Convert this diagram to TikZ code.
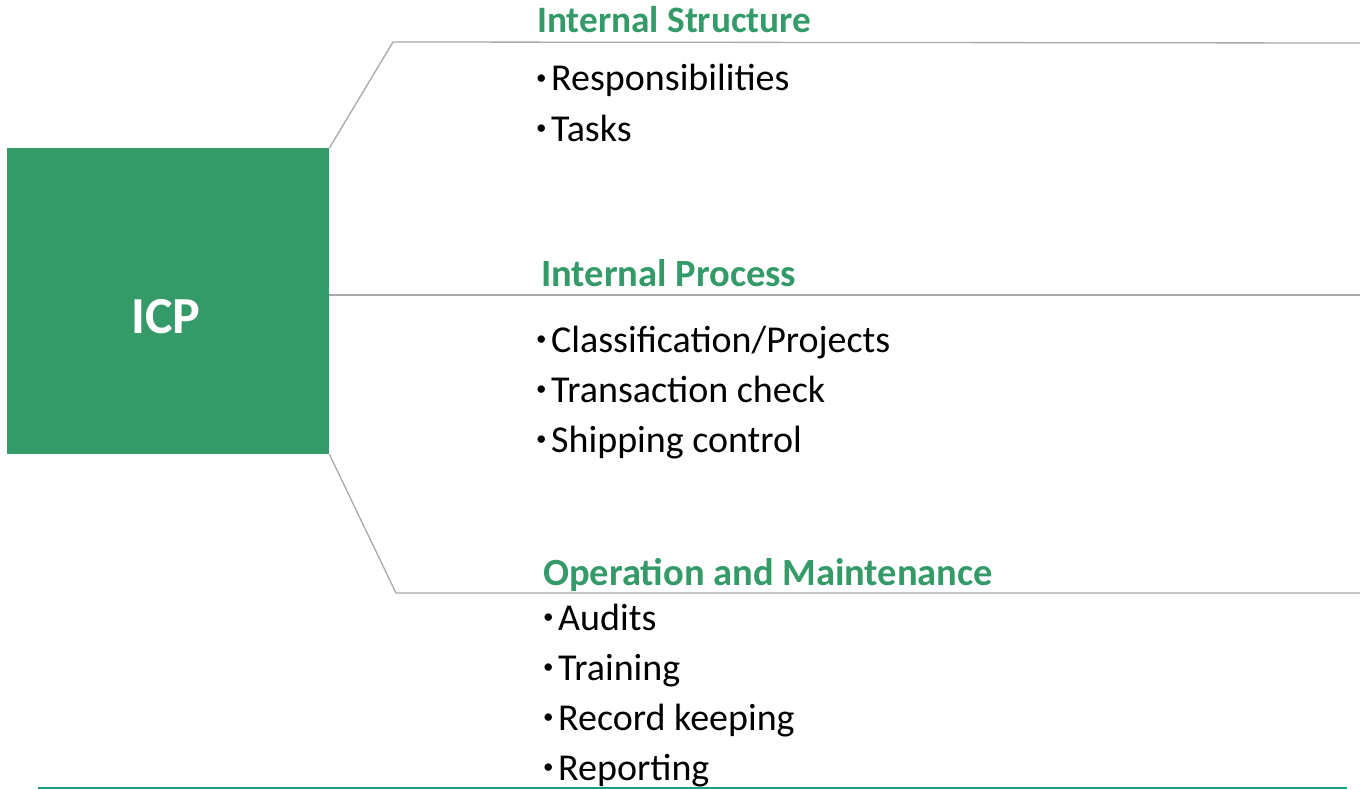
\documentclass[tikz,border=0pt]{standalone}
\usepackage{fontspec}
\setmainfont{Carlito}
\definecolor{icpgreen}{RGB}{52,154,104}
\definecolor{linegray}{RGB}{166,170,170}
\definecolor{footteal}{RGB}{24,160,128}
\newcommand\itm{\makebox[14pt][l]{\hspace{-1pt}\raisebox{6.5pt}{\fontsize{21}{21}\selectfont\textbullet}}}

\begin{document}
\begin{tikzpicture}[x=1pt,y=-1pt,
  heading/.style={anchor=base west,inner sep=0pt,text=icpgreen,font=\fontsize{38.5}{38.5}\selectfont\bfseries},
  entry/.style={anchor=base west,inner sep=0pt,font=\fontsize{38}{38}\selectfont},
  branch/.style={draw=linegray,line width=1.3pt}]
\useasboundingbox (0,0) rectangle (1364,789);
\node[fill=icpgreen,minimum width=322pt,minimum height=306pt,inner sep=0pt,anchor=north west] (icp) at (7,148) {};
\node[anchor=base,inner sep=0pt,text=white,font=\fontsize{52}{52}\selectfont\bfseries] (icplabel) at (166,333) {ICP};
\coordinate (s1) at (393,42);
\coordinate (s1e) at (1360,43);
\coordinate (p1e) at (1360,295);
\coordinate (p1) at (icp.north east |- p1e);
\coordinate (m1) at (396,593);
\coordinate (m1e) at (1360,593);
\draw[branch] (icp.north east) -- (s1) -- (s1e);
\draw[branch] (p1) -- (p1e);
\draw[branch] (icp.south east) -- (m1) -- (m1e);
\node[heading,font=\fontsize{37.3}{37.3}\selectfont\bfseries] (structure) at (537,33) {Internal Structure};
\node[heading] (process) at (541,286) {Internal Process};
\node[heading] (operation) at (543,585) {Operation and Maintenance};
\foreach \txt [count=\i] in {Responsibilities,Tasks}
  \node[entry] (struct-\i) at (537,41+50*\i) {\itm\txt};
\foreach \txt [count=\i] in {Classification/Projects,Transaction check,Shipping control}
  \node[entry] (proc-\i) at (537,302+50*\i) {\itm\txt};
\foreach \txt [count=\i] in {Audits,Training,Record keeping,Reporting}
  \node[entry] (oper-\i) at (544,580+50*\i) {\itm\txt};
\coordinate (foot-l) at (38,788);
\coordinate (foot-r) at (1347,788);
\draw[footteal,line width=1.5pt] (foot-l) -- (foot-r);
\end{tikzpicture}
\end{document}
